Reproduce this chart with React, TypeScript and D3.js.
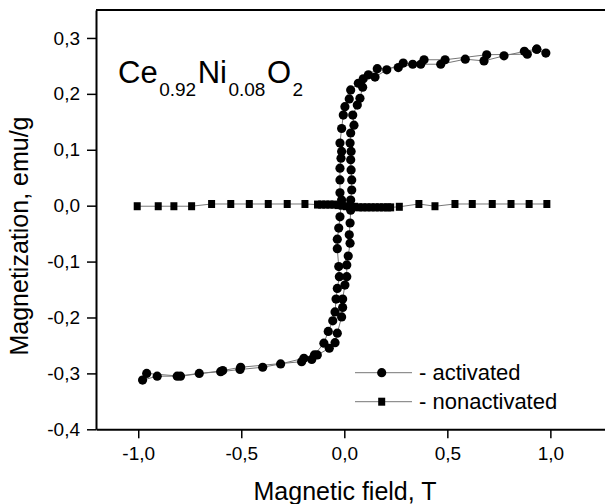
import React, { useEffect, useRef } from 'react';
import * as d3 from 'd3';

// activated sample, descending branch (from +H to -H)
const actDownH = [0.978, 0.934, 0.874, 0.775, 0.678, 0.587, 0.468, 0.371, 0.286, 0.206, 0.149, 0.092, 0.068, 0.031, 0.024, 0.003, -0.005, -0.013, -0.021, -0.013, -0.016, -0.021, -0.021, -0.021, -0.013, -0.021, -0.027, -0.034, -0.034, -0.027, -0.024, -0.034, -0.040, -0.045, -0.056, -0.078, -0.099, -0.145, -0.196, -0.309, -0.396, -0.506, -0.600, -0.704, -0.811, -0.908, -0.979];
const actDownM = [0.273, 0.280, 0.276, 0.268, 0.259, 0.262, 0.253, 0.253, 0.255, 0.243, 0.230, 0.227, 0.219, 0.207, 0.191, 0.177, 0.162, 0.138, 0.112, 0.097, 0.085, 0.067, 0.046, 0.023, 0.010, -0.020, -0.040, -0.060, -0.077, -0.109, -0.127, -0.148, -0.167, -0.190, -0.206, -0.225, -0.246, -0.267, -0.273, -0.283, -0.289, -0.293, -0.297, -0.300, -0.305, -0.305, -0.312];

// activated sample, ascending branch (from -H to +H)
const actUpH = [-0.959, -0.795, -0.590, -0.503, -0.207, -0.158, -0.131, -0.073, -0.045, -0.034, -0.013, -0.008, -0.008, 0.003, 0.012, 0.012, 0.019, 0.028, 0.024, 0.028, 0.031, 0.031, 0.036, 0.036, 0.033, 0.031, 0.033, 0.028, 0.031, 0.047, 0.041, 0.063, 0.076, 0.089, 0.117, 0.160, 0.262, 0.332, 0.387, 0.489, 0.691, 0.888, 0.934];
const actUpM = [-0.300, -0.305, -0.295, -0.289, -0.279, -0.275, -0.267, -0.255, -0.245, -0.228, -0.199, -0.182, -0.167, -0.142, -0.127, -0.106, -0.090, -0.067, -0.052, -0.031, -0.008, 0.010, 0.028, 0.046, 0.064, 0.082, 0.097, 0.112, 0.130, 0.144, 0.162, 0.180, 0.192, 0.212, 0.234, 0.245, 0.247, 0.253, 0.261, 0.261, 0.270, 0.271, 0.280];

// nonactivated sample
const nonH = [-1.005, -0.903, -0.827, -0.741, -0.644, -0.551, -0.461, -0.369, -0.277, -0.191, -0.13, -0.11, -0.09, -0.07, -0.05, -0.03, -0.01, 0.01, 0.03, 0.05, 0.07, 0.09, 0.11, 0.13, 0.15, 0.17, 0.19, 0.21, 0.225, 0.267, 0.362, 0.440, 0.537, 0.621, 0.718, 0.809, 0.897, 0.983];
const nonM = [-0.001, -0.001, -0.001, -0.001, 0.003, 0.003, 0.003, 0.003, 0.003, 0.003, 0.002, 0.002, 0.002, 0.002, 0.002, 0.001, 0.0, -0.001, -0.002, -0.002, -0.003, -0.003, -0.003, -0.003, -0.003, -0.003, -0.003, -0.003, -0.003, -0.002, 0.003, -0.001, 0.003, 0.003, 0.003, 0.003, 0.003, 0.003];

const xTicks = [-1.0, -0.5, 0.0, 0.5, 1.0];
const xMinor = [-1.0, -0.75, -0.5, -0.25, 0.0, 0.25, 0.5, 0.75, 1.0, 1.25];
const yTicks = [-0.4, -0.3, -0.2, -0.1, 0.0, 0.1, 0.2, 0.3];
const yMinor = [-0.4, -0.35, -0.3, -0.25, -0.2, -0.15, -0.1, -0.05, 0.0, 0.05, 0.1, 0.15, 0.2, 0.25, 0.3, 0.35];

const FONT = '"Liberation Sans", Arial, sans-serif';

function Chart() {
  const svgRef = useRef<SVGSVGElement>(null);

  useEffect(() => {
    const svg = d3.select(svgRef.current);
    svg.selectAll('*').remove();

    const x = d3.scaleLinear().domain([-1.205, 1.27]).range([96, 606]);
    const y = d3.scaleLinear().domain([-0.4, 0.35]).range([429.3, 10]);
    const fmt = (d: any) => d3.format('.1f')(d).replace('.', ',').replace('−', '-');

    // y axis
    const gy = svg.append('g').attr('transform', `translate(${x.range()[0]},0)`);
    gy.call(d3.axisLeft(y).tickValues(yMinor).tickSize(5).tickSizeOuter(0).tickFormat(() => ''));
    gy.call(d3.axisLeft(y).tickValues(yTicks).tickSize(9).tickSizeOuter(0).tickFormat(fmt));
    gy.select('.domain').attr('stroke-width', 2);
    gy.selectAll('.tick line').attr('stroke-width', 1.5);
    gy.selectAll('text').attr('font-size', 19).attr('font-family', FONT).attr('fill', '#000').attr('x', -16);

    // x axis
    const gx = svg.append('g').attr('transform', `translate(0,${y.range()[0]})`);
    gx.call(d3.axisBottom(x).tickValues(xMinor).tickSize(5).tickSizeOuter(0).tickFormat(() => ''));
    gx.call(d3.axisBottom(x).tickValues(xTicks).tickSize(9).tickSizeOuter(0).tickFormat(fmt));
    gx.select('.domain').attr('stroke-width', 2);
    gx.selectAll('.tick line').attr('stroke-width', 1.5);
    gx.selectAll('text').attr('font-size', 19).attr('font-family', FONT).attr('fill', '#000').attr('y', 17);

    // top frame
    svg.append('line')
      .attr('x1', x.range()[0]).attr('x2', x.range()[1])
      .attr('y1', y(0.35)).attr('y2', y(0.35))
      .attr('stroke', '#000').attr('stroke-width', 2);

    const line = d3.line<[number, number]>().x(d => x(d[0])).y(d => y(d[1]));

    const down = actDownH.map((h, i) => [h, actDownM[i]] as [number, number]);
    const up = actUpH.map((h, i) => [h, actUpM[i]] as [number, number]);
    const non = nonH.map((h, i) => [h, nonM[i]] as [number, number]);

    [down, up, non].forEach(s => {
      svg.append('path').attr('d', line(s)!).attr('fill', 'none')
        .attr('stroke', '#777').attr('stroke-width', 1);
    });

    svg.append('g').selectAll('rect').data(non).enter().append('rect')
      .attr('x', d => x(d[0]) - 3.5).attr('y', d => y(d[1]) - 4)
      .attr('width', 7).attr('height', 8).attr('fill', '#000');

    svg.append('g').selectAll('circle').data(down.concat(up)).enter().append('circle')
      .attr('cx', d => x(d[0])).attr('cy', d => y(d[1]))
      .attr('r', 4.6).attr('fill', '#000');

    // legend
    const lg = svg.append('g').attr('font-family', FONT).attr('font-size', 22);
    [[372.7, 'circle', '- activated'], [401.7, 'rect', '- nonactivated']].forEach(([ly, shape, label]) => {
      lg.append('line').attr('x1', 355).attr('x2', 412).attr('y1', ly as number).attr('y2', ly as number)
        .attr('stroke', '#777').attr('stroke-width', 1);
      if (shape === 'circle') {
        lg.append('circle').attr('cx', 381.7).attr('cy', ly as number).attr('r', 4.6).attr('fill', '#000');
      } else {
        lg.append('rect').attr('x', 378.2).attr('y', (ly as number) - 4).attr('width', 7).attr('height', 8).attr('fill', '#000');
      }
      lg.append('text').attr('x', 419).attr('y', (ly as number) + 7.5).text(label as string);
    });

    // axis titles
    svg.append('text').attr('x', 345).attr('y', 500).attr('text-anchor', 'middle')
      .attr('font-family', FONT).attr('font-size', 25).text('Magnetic field, T');
    svg.append('text').attr('transform', 'translate(28,236) rotate(-90)').attr('text-anchor', 'middle')
      .attr('font-family', FONT).attr('font-size', 25).text('Magnetization, emu/g');

    // formula
    const f = svg.append('text').attr('x', 118).attr('y', 83).attr('font-family', FONT).attr('font-size', 31);
    const parts: [string, boolean][] = [['Ce', false], ['0.92', true], ['Ni', false], ['0.08', true], ['O', false], ['2', true]];
    parts.forEach(([t, sub], i) => {
      const ts = f.append('tspan').text(t);
      if (sub) ts.attr('font-size', 19).attr('dy', 13).attr('dx', 1.5);
      else if (i > 0) ts.attr('dy', -13).attr('dx', 1.5);
    });
  }, []);

  return <svg ref={svgRef} width={605} height={504} style={{ position: 'absolute', left: 0, top: 0, background: '#fff' }} />;
}

export default function App() {
  return <Chart />;
}
